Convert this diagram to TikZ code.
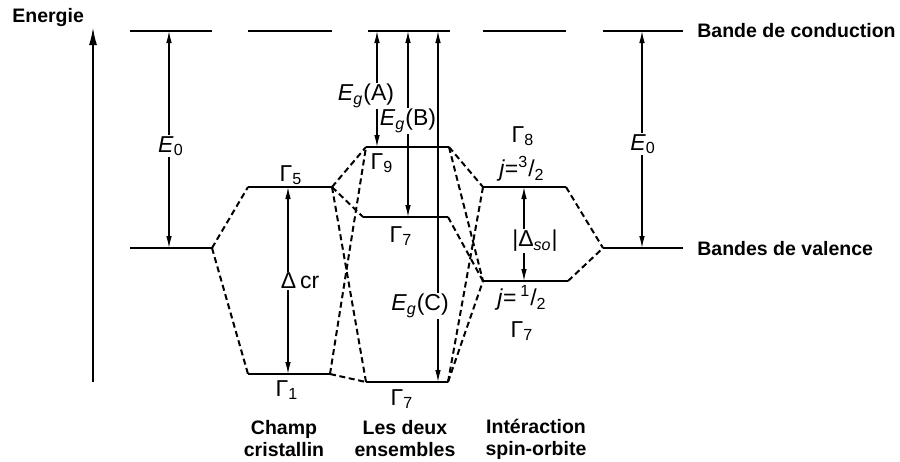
\documentclass[tikz,border=0pt]{standalone}
\usepackage{fontspec}
\setmainfont{Liberation Sans}
\usetikzlibrary{arrows.meta}
\tikzset{
band/.style={line width=1.4pt},
link/.style={line width=1pt, dash pattern=on 3pt off 1.8pt},
gaparrow/.style={line width=0.6pt, {Latex[length=6pt,width=2.8pt]}-{Latex[length=6pt,width=2.8pt]}},
lbl/.style={font=\fontsize{11.5}{13}\selectfont, inner sep=0.6pt},
onarrow/.style={lbl, fill=white},
tag/.style={font=\bfseries\fontsize{9.75}{11}\selectfont, align=center, inner sep=0pt},
}

\begin{document}
\begin{tikzpicture}[x=0.5pt, y=-0.5pt]
        \useasboundingbox (0,0) rectangle (900,461);

        % bande de conduction
        \foreach \a/\b [count=\i] in {130/212, 248/332, 368/450, 483/566, 603/683} {
            \coordinate (cb\i l) at (\a,31);
            \coordinate (cb\i r) at (\b,31);
            \draw[band] (cb\i l) -- (cb\i r);
        }

        % niveaux de valence
        \coordinate (vLl) at (130,248);  \coordinate (vLr) at (212,248);
        \coordinate (G5l) at (248,187);  \coordinate (G5r) at (332,187);
        \coordinate (G1l) at (248,374);  \coordinate (G1r) at (330,374);
        \coordinate (G9l) at (366,147);  \coordinate (G9r) at (449,147);
        \coordinate (G7ul) at (363,217); \coordinate (G7ur) at (448,217);
        \coordinate (G7dl) at (366,382); \coordinate (G7dr) at (448,382);
        \coordinate (G8l) at (483,187);  \coordinate (G8r) at (566,187);
        \coordinate (G7sl) at (483,281); \coordinate (G7sr) at (568,281);
        \coordinate (vRl) at (603,248);  \coordinate (vRr) at (683,248);

        \foreach \n in {vL, G5, G1, G9, G7u, G7d, G8, G7s, vR}
            \draw[band] (\n l) -- (\n r);

        % liaisons
        \draw[link] (vLr) -- (G5l);
        \draw[link] (vLr) -- (G1l);
        \draw[link] (G5r) -- (G9l);
        \draw[link] (G5r) -- (G7ul);
        \draw[link] (G5r) -- (G7dl);
        \draw[link] (G1r) -- (G9l);
        \draw[link] (G1r) -- (G7dl);
        \draw[link] (G9r) -- (G8l);
        \draw[link] (G9r) -- (G7sl);
        \draw[link] (G7ur) -- (G7sl);
        \draw[link] (G7dr) -- (G8l);
        \draw[link] (G7dr) -- (G7sl);
        \draw[link] (G8r) -- (vRl);
        \draw[link] (G7sr) -- (vRl);

        % axe des energies
        \coordinate (ax0) at (93,382);
        \coordinate (ax1) at (93,27);
        \draw[line width=1pt, -{Latex[length=9pt,width=4pt]}] (ax0) -- (ax1);
        \node[tag, anchor=west] (energie) at (12,17) {Energie};

        % ecarts
        \coordinate (e0a) at (169,31);  \coordinate (e0b) at (169,248);
        \coordinate (dca) at (288,187); \coordinate (dcb) at (288,374);
        \coordinate (ega) at (377,31);  \coordinate (egA) at (377,147);
        \coordinate (egb) at (408,31);  \coordinate (egB) at (408,217);
        \coordinate (egc) at (438,31);  \coordinate (egC) at (438,382);
        \coordinate (dsa) at (524,187); \coordinate (dsb) at (524,281);
        \coordinate (e1a) at (642,31);  \coordinate (e1b) at (642,248);

        \draw[gaparrow] (e0a) -- (e0b);
        \draw[gaparrow] (dca) -- (dcb);
        \draw[gaparrow] (ega) -- (egA);
        \draw[gaparrow] (egb) -- (egB);
        \draw[gaparrow] (egc) -- (egC);
        \draw[gaparrow] (dsa) -- (dsb);
        \draw[gaparrow] (e1a) -- (e1b);

        \node[onarrow] (lE0) at (171,146) {\textit{E}\textsubscript{0}};
        \node[onarrow] (lEr) at (643,144) {\textit{E}\textsubscript{0}};
        \node[onarrow] (ldc) at (300,281) {Δ\,cr};
        \node[onarrow] (lEA) at (366,96) {\textit{E}\textsubscript{\textit{g}}(A)};
        \node[onarrow] (lEB) at (408,121) {\textit{E}\textsubscript{\textit{g}}(B)};
        \node[onarrow] (lEC) at (420,306) {\textit{E}\textsubscript{\textit{g}}(C)};
        \node[onarrow] (lds) at (535,241) {|Δ\textsubscript{\textit{so}}|};

        % representations
        \node[lbl] (nG5) at (291,175) {Γ\textsubscript{5}};
        \node[lbl] (nG1) at (287,390) {Γ\textsubscript{1}};
        \node[lbl] (nG9) at (382,163) {Γ\textsubscript{9}};
        \node[lbl] (nG7u) at (401,236) {Γ\textsubscript{7}};
        \node[lbl] (nG7d) at (402,399) {Γ\textsubscript{7}};
        \node[lbl] (nG8) at (523,136) {Γ\textsubscript{8}};
        \node[lbl] (nj3) at (522,169) {\textit{j}=\textsuperscript{3}/\textsubscript{2}};
        \node[lbl] (nj1) at (522,298) {\textit{j}=\,\textsuperscript{1}/\textsubscript{2}};
        \node[lbl] (nG7s) at (522,331) {Γ\textsubscript{7}};

        % legendes
        \node[tag, anchor=west] (cond) at (697,31) {Bande de conduction};
        \node[tag, anchor=west] (val) at (697,249) {Bandes de valence};
        \node[tag] (champ) at (284,439) {Champ\\cristallin};
        \node[tag] (deux) at (405,439) {Les deux\\ensembles};
        \node[tag] (spin) at (536,439) {Intéraction\\spin-orbite};
    \end{tikzpicture}
\end{document}
